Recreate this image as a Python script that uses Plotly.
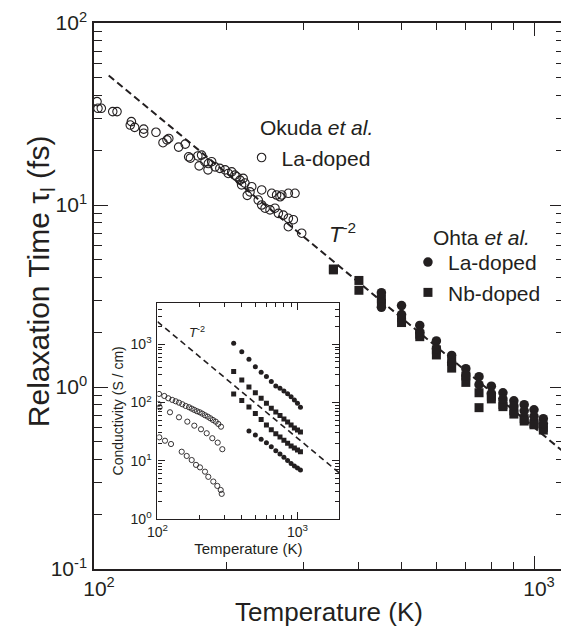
import plotly.graph_objects as go
import numpy as np

# ---------------- data ----------------
# Main panel: Okuda et al., La-doped (open circles)
okuda_T = [101.6, 102.1, 103.9, 110.3, 112.8, 121.6, 120.9, 123.7, 129.7, 129.7,
           138.3, 147.9, 146.5, 143.5, 155.7, 161.2, 164.1, 165.6, 172.2, 173.4,
           181.6, 175.6, 178.7, 181.9, 185.1, 188.4, 193.2, 198.6, 201.9, 205.6,
           209.0, 211.0, 214.7, 218.3, 220.3, 216.5, 228.3, 226.2, 223.0,
           236.2, 240.5, 244.8, 251.2, 257.8, 262.4, 269.3, 276.5, 283.8, 276.5, 296.5,
           240.5, 253.5, 260.0, 264.8, 267.2, 276.5, 286.3]
okuda_tau = [37.0, 34.0, 34.0, 32.6, 32.6, 28.7, 27.5, 26.7, 26.1, 24.8,
             25.1, 23.2, 22.8, 22.0, 20.8, 21.6, 18.4, 18.1, 18.6, 16.4,
             15.6, 18.8, 17.3, 16.9, 17.3, 16.2, 15.9, 15.6, 14.9, 15.2,
             14.6, 14.3, 13.7, 14.0, 13.2, 12.9, 12.6, 11.8, 11.3,
             10.65, 10.0, 9.6, 9.4, 9.6, 9.0, 8.8, 8.45, 8.3, 7.6, 7.0,
             12.1, 11.6, 11.35, 11.1, 11.35, 11.6, 11.6]

# Main panel: Ohta et al., La-doped (filled circles) and Nb-doped (filled squares)
ohta_la_T = [450, 500, 550, 600, 650, 700, 750, 800, 850, 900, 950, 1000, 1050]
ohta_la_1 = [3.30, 2.80, 2.18, 1.79, 1.49, 1.26, 1.14, 1.01, 0.93, 0.84, 0.80, 0.75, 0.67]
ohta_la_2 = [2.74, 2.50, 2.00, 1.62, 1.36, 1.15, 1.03, 0.92, 0.86, 0.79, 0.74, 0.69, 0.63]
ohta_nb_T = [350, 400, 450, 500, 550, 600, 650, 700, 750, 800, 850, 900, 950, 1000, 1050]
ohta_nb_1 = [4.45, 3.85, 3.05, 2.40, 1.95, 1.60, 1.38, 1.15, 0.93, 0.89, 0.80, 0.74, 0.67, 0.63, 0.60]
ohta_nb_2 = [4.40, 3.40, 2.88, 2.26, 1.89, 1.50, 1.27, 1.06, 0.77, 0.86, 0.78, 0.71, 0.65, 0.62, 0.58]

# T^-2 guide lines
guide_T = [108, 1200]
guide_A = 6.0e5          # tau = A / T^2   (fs)
inset_guide_T = [100, 2000]
inset_guide_A = 2.445e7  # sigma = A / T^2 (S/cm)

# Inset: conductivity (S/cm)
ins_ok1_T = [102.5, 111.8, 119.4, 127.5, 134.9, 142.4, 150.4, 159.0, 167.9, 175.5, 183.2,
             191.5, 200.2, 208.9, 218.4, 228.4, 238.4, 248.9, 260.4, 271.8, 284.2]
ins_ok1_s = [140.6, 129.8, 118.5, 110.9, 105.2, 99.6, 93.5, 87.4, 83.1, 78.7, 74.7,
             70.9, 68.1, 64.5, 60.5, 57.3, 53.7, 50.2, 47.0, 42.9, 38.5]
ins_ok2_T = [101.5, 103.5, 122.8, 142.4, 163.3, 183.2, 204.5, 224.6, 246.3, 269.2, 290.4]
ins_ok2_s = [94.6, 83.1, 68.1, 55.8, 47.0, 40.1, 34.8, 29.7, 24.4, 20.5, 15.8]
ins_ok3_T = [103.0, 113.1, 124.9, 148.9, 161.7, 175.5, 188.4, 201.2, 218.4, 230.6,
             250.4, 267.4, 282.8, 287.5]
ins_ok3_s = [25.3, 22.1, 19.4, 14.3, 12.1, 10.3, 8.5, 7.7, 6.5, 5.3, 4.4, 3.7, 3.15, 2.7]

ins_la1_T = [350, 400, 450, 500, 550, 600, 650, 700, 750, 800, 850, 900, 950, 1000, 1050]
ins_la1_s = [1045, 749, 555, 414, 332, 279, 229, 193, 176, 158, 141, 126, 111, 97, 83]
ins_la2_T = [450, 500, 550, 600, 650, 700, 750, 800, 850, 900, 950, 1000, 1050]
ins_la2_s = [32.5, 27.7, 23.4, 20.5, 17.5, 14.9, 13.1, 11.5, 10.1, 9.0, 8.1, 7.5, 6.95]
ins_nb_T = [350, 400, 450, 500, 550, 600, 650, 700, 750, 800, 850, 900, 950, 1000, 1050]
ins_nb1_s = [340, 245, 185, 148, 119, 97, 80, 69, 60, 52, 46.4, 41.2, 36.6, 33.8, 31.3]
ins_nb2_s = [140, 108, 84, 65, 51, 41, 34, 29, 25.5, 22.5, 20, 18, 16.5, 15.3, 14.3]

# tick values / labels
main_x_ticks = [100, 1000]
main_x_text = ["10<sup>2</sup>", "10<sup>3</sup>"]
main_y_ticks = [0.1, 1, 10, 100]
main_y_text = ["10<sup>-1</sup>", "10<sup>0</sup>", "10<sup>1</sup>", "10<sup>2</sup>"]
ins_y_ticks = [1, 10, 100, 1000]
ins_y_text = ["10<sup>0</sup>", "10<sup>1</sup>", "10<sup>2</sup>", "10<sup>3</sup>"]

# ---------------- figure ----------------
INK = "#231f20"
FONT = "Liberation Sans, Arial, Helvetica, sans-serif"
BODY = 8  # default page margin of the html body

fig = go.Figure()

gT = np.array(guide_T, dtype=float)
fig.add_trace(go.Scatter(x=gT, y=guide_A / gT**2, mode="lines",
                         line=dict(color=INK, width=2, dash="7px,4px"),
                         showlegend=False, hoverinfo="skip"))

fig.add_trace(go.Scatter(x=okuda_T, y=okuda_tau, mode="markers", name="La-doped",
                         marker=dict(symbol="circle-open", size=8.5, color=INK,
                                     line=dict(width=1.1, color=INK)),
                         legend="legend"))

fig.add_trace(go.Scatter(x=ohta_nb_T + ohta_nb_T, y=ohta_nb_1 + ohta_nb_2, mode="markers",
                         name="Nb-doped", legend="legend2", legendrank=2,
                         marker=dict(symbol="square", size=9, color=INK)))
fig.add_trace(go.Scatter(x=ohta_la_T + ohta_la_T, y=ohta_la_1 + ohta_la_2, mode="markers",
                         name="La-doped", legend="legend2", legendrank=1,
                         marker=dict(symbol="circle", size=9.5, color=INK)))

# inset traces
iT = np.array(inset_guide_T, dtype=float)
fig.add_trace(go.Scatter(x=iT, y=inset_guide_A / iT**2, mode="lines",
                         xaxis="x2", yaxis="y2",
                         line=dict(color=INK, width=1.6, dash="6px,4px"),
                         showlegend=False, hoverinfo="skip"))
for tx, sy in [(ins_ok1_T, ins_ok1_s), (ins_ok2_T, ins_ok2_s), (ins_ok3_T, ins_ok3_s)]:
    fig.add_trace(go.Scatter(x=tx, y=sy, mode="markers", xaxis="x2", yaxis="y2",
                             showlegend=False,
                             marker=dict(symbol="circle-open", size=5.2, color=INK,
                                         line=dict(width=0.9, color=INK))))
for tx, sy in [(ins_la1_T, ins_la1_s), (ins_la2_T, ins_la2_s)]:
    fig.add_trace(go.Scatter(x=tx, y=sy, mode="markers", xaxis="x2", yaxis="y2",
                             showlegend=False,
                             marker=dict(symbol="circle", size=5, color=INK)))
for sy in [ins_nb1_s, ins_nb2_s]:
    fig.add_trace(go.Scatter(x=ins_nb_T, y=sy, mode="markers", xaxis="x2", yaxis="y2",
                             showlegend=False,
                             marker=dict(symbol="square", size=5, color=INK)))

axis_common = dict(type="log", showgrid=False, zeroline=False, showline=True,
                   linecolor=INK, mirror="ticks", ticks="inside", tickcolor=INK,
                   color=INK)

fig.update_layout(
    width=569 - BODY, height=633 - BODY, autosize=False,
    margin=dict(l=94 - BODY, r=5, t=23 - BODY, b=64, autoexpand=False),
    paper_bgcolor="white", plot_bgcolor="white",
    font=dict(family=FONT, color=INK),
    xaxis=dict(**axis_common, range=[2, np.log10(1170)], linewidth=1.5,
               tickmode="array", tickvals=main_x_ticks, ticktext=main_x_text,
               ticklen=13, tickwidth=1.3, tickfont=dict(size=21), ticklabelshift=5,
               minor=dict(tickmode="array", tickvals=[200, 300, 400, 500, 600, 700, 800, 900],
                          ticks="inside", ticklen=7, tickwidth=1.2, tickcolor=INK),
               title=dict(text="Temperature (K)", font=dict(size=26), standoff=4)),
    yaxis=dict(**axis_common, range=[-1, 2], linewidth=1.5,
               tickmode="array", tickvals=main_y_ticks, ticktext=main_y_text,
               ticklen=14, tickwidth=1.3, tickfont=dict(size=21), ticklabelstandoff=1,
               minor=dict(tickmode="array",
                          tickvals=[v * d for d in (0.1, 1, 10) for v in range(2, 10)],
                          ticks="inside", ticklen=8, tickwidth=1.2, tickcolor=INK)),
    xaxis2=dict(**axis_common, domain=[0.1351, 0.5219], anchor="y2",
                range=[2, 3.2986], linewidth=1.2,
                tickmode="array", tickvals=main_x_ticks, ticktext=main_x_text,
                ticklen=7, tickwidth=1, tickfont=dict(size=14),
                minor=dict(tickmode="array",
                           tickvals=[200, 300, 400, 500, 600, 700, 800, 900],
                           ticks="inside", ticklen=4, tickwidth=0.9, tickcolor=INK),
                title=dict(text="Temperature (K)", font=dict(size=15), standoff=2)),
    yaxis2=dict(**axis_common, domain=[0.0916, 0.4877], anchor="x2",
                range=[0, 3.715], linewidth=1.2,
                tickmode="array", tickvals=ins_y_ticks, ticktext=ins_y_text,
                ticklen=7, tickwidth=1, tickfont=dict(size=14), ticklabelstandoff=2,
                minor=dict(tickmode="array",
                           tickvals=[v * d for d in (1, 10, 100, 1000) for v in range(2, 10)],
                           ticks="inside", ticklen=4, tickwidth=0.9, tickcolor=INK),
                title=dict(text="Conductivity (S / cm)", font=dict(size=14), standoff=3)),
    legend=dict(x=0.314, y=0.753, xanchor="left", yanchor="middle",
                bgcolor="rgba(0,0,0,0)", borderwidth=0, font=dict(size=21),
                itemsizing="trace", tracegroupgap=0),
    legend2=dict(x=0.668, y=0.534, xanchor="left", yanchor="middle",
                 bgcolor="rgba(0,0,0,0)", borderwidth=0, font=dict(size=21),
                 itemsizing="trace", tracegroupgap=0),
    annotations=[
        dict(text="Relaxation Time \u03c4<sub>l</sub> (fs)", xref="paper", yref="paper",
             x=-0.115, y=0.527, xanchor="center", yanchor="middle", textangle=-90,
             showarrow=False, font=dict(size=30)),
        dict(text="Okuda <i>et al.</i>", xref="paper", yref="paper", x=0.3496, y=0.8077,
             xanchor="left", yanchor="middle", showarrow=False, font=dict(size=21)),
        dict(text="Ohta <i>et al.</i>", xref="paper", yref="paper", x=0.717, y=0.608,
             xanchor="left", yanchor="middle", showarrow=False, font=dict(size=21)),
        dict(text="<i>T</i><sup>-2</sup>", xref="paper", yref="paper", x=0.495, y=0.615,
             xanchor="left", yanchor="middle", showarrow=False, font=dict(size=22)),
        dict(text="<i>T</i><sup>-2</sup>", xref="paper", yref="paper", x=0.197, y=0.434,
             xanchor="left", yanchor="middle", showarrow=False, font=dict(size=13)),
    ],
)

fig.write_html("out.html", config={"displayModeBar": False})
